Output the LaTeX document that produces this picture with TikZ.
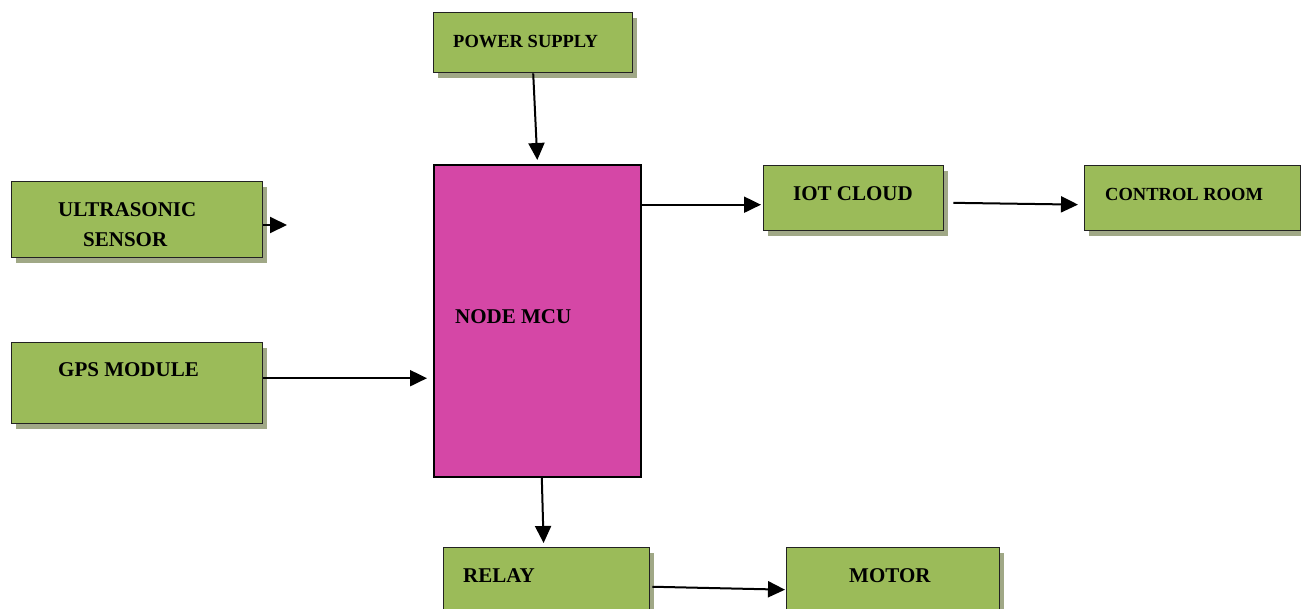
\documentclass[tikz,border=0pt]{standalone}
\usepackage{fontspec}
\setmainfont{Liberation Serif}
\usetikzlibrary{arrows.meta, shadows}
\definecolor{boxgreen}{HTML}{9BBB59}
\definecolor{mcupink}{HTML}{D547A6}
\definecolor{shade}{HTML}{A0A886}
\definecolor{edge}{HTML}{222222}

\begin{document}
\begin{tikzpicture}[
  x=1pt, y=-1pt,
  >={Triangle[length=17pt, width=16pt]},
  blk/.style={rectangle, draw=edge, line width=1.4pt, fill=boxgreen, anchor=north west, inner sep=0pt, drop shadow={shadow xshift=4pt, shadow yshift=-5pt, fill=shade, opacity=1}},
  mcu/.style={rectangle, draw=black, line width=1.6pt, fill=mcupink, anchor=north west, inner sep=0pt},
  big/.style={anchor=base west, inner sep=0pt, font=\fontsize{21}{25}\selectfont\bfseries},
  small/.style={anchor=base west, inner sep=0pt, font=\fontsize{18.5}{22}\selectfont\bfseries},
  a/.style={->, line width=2pt, black},
]
\useasboundingbox (0,0) rectangle (1301,608);
% boxes
\node[blk, minimum width=199pt, minimum height=60pt] (pwr) at (433,12) {};
\node[blk, minimum width=251pt, minimum height=76pt] (us) at (11,181) {};
\node[blk, minimum width=251pt, minimum height=81pt] (gps) at (11,342) {};
\node[mcu, minimum width=207pt, minimum height=312pt] (mcu) at (433,164) {};
\node[blk, minimum width=180pt, minimum height=65pt] (iot) at (763,165) {};
\node[blk, minimum width=216pt, minimum height=65pt] (ctrl) at (1084,165) {};
\node[blk, minimum width=206pt, minimum height=80pt] (relay) at (443,547) {};
\node[blk, minimum width=213pt, minimum height=80pt] (motor) at (786,547) {};
% labels
\node[small] (pwr-t) at (453,47) {POWER SUPPLY};
\node[big] (us-t1) at (58,216) {ULTRASONIC};
\node[big] (us-t2) at (83,246) {SENSOR};
\node[big] (gps-t) at (58,376) {GPS MODULE};
\node[big] (mcu-t) at (455,323) {NODE MCU};
\node[big] (iot-t) at (793,200) {IOT CLOUD};
\node[small] (ctrl-t) at (1105,200) {CONTROL ROOM};
\node[big] (relay-t) at (463,582) {RELAY};
\node[big] (motor-t) at (849,582) {MOTOR};
% arrows
\coordinate (us-end) at (287,225);
\path ([yshift=5pt]gps.east) coordinate (gps-out);
\path ([yshift=-6.5pt]iot.west) coordinate (iot-in);
\draw[a] (pwr.south) -- ([yshift=4pt]mcu.north);
\draw[a] (us.east|-us-end) -- (us-end);
\draw[a, shorten >=6pt] (gps-out) -- (gps-out -| mcu.west);
\draw[a, shorten >=2pt] (iot-in -| mcu.east) -- (iot-in);
\draw[a, shorten <=9pt, shorten >=6pt] ([yshift=-4.5pt]iot.east) -- ([yshift=-6.5pt]ctrl.west);
\draw[a, shorten >=4pt] ([xshift=4.5pt]mcu.south) -- ([xshift=-3pt]relay.north);
\draw[a, shorten <=2pt, shorten >=1pt] ([yshift=1pt]relay.east) -- ([yshift=-2pt]motor.west);
\end{tikzpicture}
\end{document}
